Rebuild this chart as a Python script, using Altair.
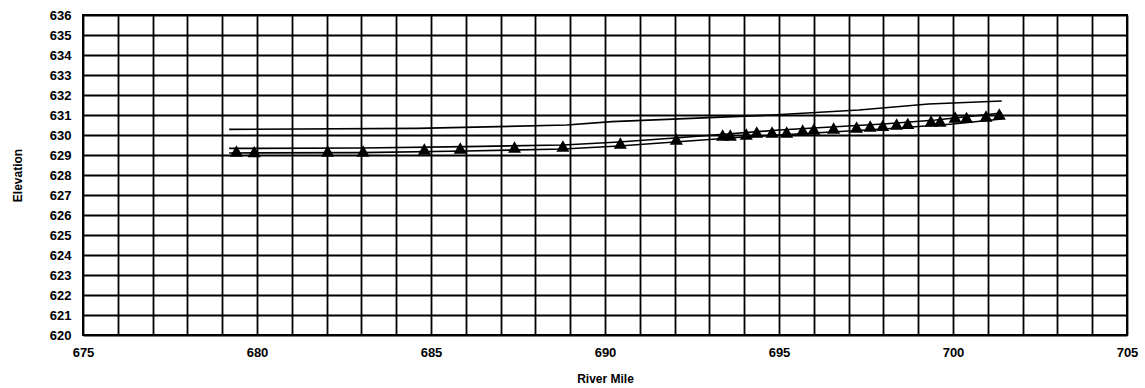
import altair as alt
import pandas as pd

# Observed points (triangles)
obs_mile = [679.41, 679.92, 682.03, 683.05, 684.81, 685.84, 687.40, 688.79, 690.44,
            692.05, 693.38, 693.60, 694.06, 694.36, 694.80, 695.22, 695.68, 696.00,
            696.57, 697.23, 697.62, 697.98, 698.38, 698.70, 699.37, 699.63, 700.06,
            700.39, 700.95, 701.33]
obs_elev = [629.2, 629.17, 629.2, 629.2, 629.3, 629.35, 629.4, 629.45, 629.6,
            629.8, 630.0, 630.0, 630.05, 630.15, 630.15, 630.15, 630.25, 630.3,
            630.35, 630.4, 630.45, 630.48, 630.55, 630.58, 630.7, 630.7, 630.9,
            630.88, 630.95, 631.05]

# Computed line just above the points
l1_mile = [679.2, 683.0, 686.0, 688.8, 690.4, 692.0, 693.5, 695.0, 696.5, 698.0, 699.5, 701.4]
l1_elev = [629.33, 629.35, 629.42, 629.5, 629.65, 629.85, 630.05, 630.25, 630.4, 630.55, 630.75, 631.1]

# Computed line just below the points
l2_mile = [679.2, 683.0, 686.0, 688.8, 690.4, 692.0, 694.0, 696.0, 698.0, 700.0, 701.4]
l2_elev = [629.1, 629.12, 629.2, 629.3, 629.45, 629.65, 629.9, 630.1, 630.3, 630.55, 630.8]

# Upper line
l3_mile = [679.2, 684.6, 688.9, 690.2, 694.8, 697.3, 698.3, 699.3, 701.4]
l3_elev = [630.28, 630.33, 630.5, 630.67, 631.0, 631.25, 631.4, 631.55, 631.7]

x_ticks = list(range(675, 706))
y_ticks = list(range(620, 637))

obs = pd.DataFrame({"mile": obs_mile, "elev": obs_elev})
lines = pd.concat([
    pd.DataFrame({"mile": l1_mile, "elev": l1_elev, "s": "a"}),
    pd.DataFrame({"mile": l2_mile, "elev": l2_elev, "s": "b"}),
    pd.DataFrame({"mile": l3_mile, "elev": l3_elev, "s": "c"}),
])

FONT = "Liberation Sans"

xaxis = alt.Axis(values=x_ticks, labelExpr="datum.value % 5 == 0 ? datum.label : ''",
                 title="River Mile", grid=True, gridColor="black", gridWidth=1.8,
                 gridOpacity=1, ticks=False, tickSize=0, domain=False,
                 labelPadding=11, labelFont=FONT, labelFontSize=13,
                 labelFontWeight="bold", labelColor="black", labelFlush=False,
                 labelOverlap=False,
                 titleFont=FONT, titleFontSize=12, titleFontWeight="bold",
                 titleColor="black", titleY=43, titleBaseline="middle")
yaxis = alt.Axis(values=y_ticks, format="d", title="Elevation", grid=True,
                 gridColor="black", gridWidth=1.8, gridOpacity=1, ticks=False,
                 tickSize=0, domain=False, labelPadding=12, labelFont=FONT,
                 labelFontSize=13, labelFontWeight="bold", labelColor="black",
                 labelFlush=False, labelOverlap=False,
                 titleFont=FONT, titleFontSize=12, titleFontWeight="bold",
                 titleColor="black", titleX=-66, titleBaseline="middle")

xs = alt.Scale(domain=[675, 705], nice=False, zero=False)
ys = alt.Scale(domain=[620, 636], nice=False, zero=False)

xenc = alt.X("mile:Q", scale=xs, axis=xaxis)
yenc = alt.Y("elev:Q", scale=ys, axis=yaxis)

line_layer = alt.Chart(lines).mark_line(color="black", strokeWidth=1.7).encode(
    x=xenc, y=yenc, detail="s:N")
pts = alt.Chart(obs).mark_point(shape="triangle-up", filled=True, color="black",
                                opacity=1, size=170).encode(x=xenc, y=yenc)

chart = alt.layer(line_layer, pts).properties(
    width=1044, height=320,
    autosize=alt.AutoSizeParams(type="none"),
    padding={"left": 83, "top": 15, "right": 18, "bottom": 53},
    background="white",
).configure_view(stroke="black", strokeWidth=2)

chart.save("out.html", embed_options={"renderer": "svg", "actions": False})
